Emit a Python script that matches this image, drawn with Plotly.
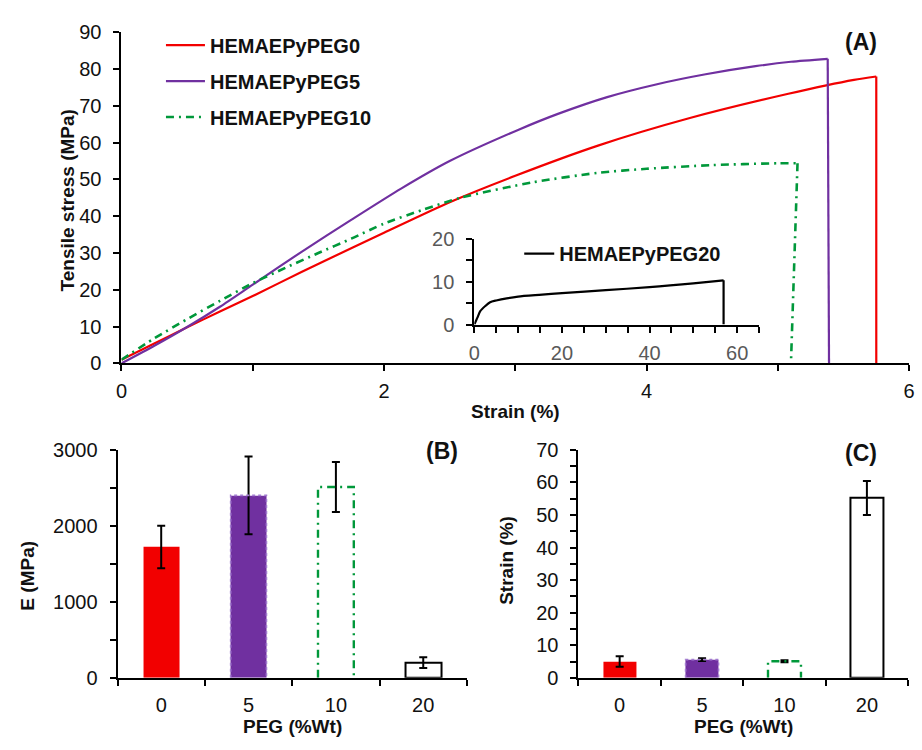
import plotly.graph_objects as go

W, H = 922, 750

# ---- Tensile stress-strain curves (strain %, stress MPa); last point is the break ----
peg0_strain = [0, 0.25, 0.5, 0.75, 1.0, 1.375, 1.75, 2.0, 2.5, 3.0, 3.63, 4.33, 5.08, 5.58, 5.75, 5.75]
peg0_stress = [1.0, 5.4, 9.8, 14.1, 18.3, 24.9, 31.3, 35.5, 43.8, 51.0, 59.2, 66.7, 73.3, 77.1, 78.0, 0]

peg5_strain = [0, 0.25, 0.5, 0.75, 1.0, 1.375, 1.75, 2.13, 2.5, 3.03, 3.33, 3.7, 4.08, 4.45, 4.83, 5.1, 5.38, 5.39]
peg5_stress = [0, 4.8, 9.9, 15.4, 21.4, 30.4, 39.0, 47.5, 55.0, 63.6, 67.9, 72.4, 75.9, 78.6, 80.8, 82.0, 82.8, 0]

peg10_strain = [0, 0.25, 0.5, 0.75, 1.0, 1.25, 1.5, 1.75, 2.0, 2.3, 2.58, 3.13, 3.63, 4.0, 4.5, 5.0, 5.15, 5.1]
peg10_stress = [1.0, 6.8, 12.0, 17.0, 21.8, 26.0, 30.0, 33.9, 38.0, 41.8, 45.0, 49.2, 51.8, 52.9, 53.9, 54.4, 54.4, 0]

peg20_strain = [0, 0.7, 1.35, 2.5, 3.6, 5.0, 7.4, 10, 14.8, 20, 30, 40, 44.7, 50, 56.9, 56.9]
peg20_stress = [0, 1.6, 3.1, 4.3, 5.2, 5.6, 6.1, 6.5, 6.9, 7.3, 8.0, 8.7, 9.1, 9.6, 10.3, 0]

# ---- Bar data per PEG content ----
peg_labels = ["0", "5", "10", "20"]
modulus = [1720, 2400, 2510, 200]
modulus_err = [280, 510, 330, 70]
elongation = [5.0, 5.6, 5.1, 55.2]
elongation_err = [1.6, 0.4, 0.3, 5.2]

RED = "#F20000"
PURPLE = "#7030A0"
PURPLE_EDGE = "#A27BD0"
GREEN = "#00983A"
DASHDOT = "8px,5px,2px,5px"
FONT = "Liberation Sans, Arial, sans-serif"
TXT = "#111111"


def fx(p):
    return p / W


def fy(p):
    return 1 - p / H


fig = go.Figure()


def curve(xs, ys, name, line, xa, ya, group=None, legend="legend"):
    # smooth loading part, then the straight vertical break
    fig.add_trace(go.Scatter(x=xs[:-1], y=ys[:-1], mode="lines", name=name,
                             line=dict(shape="spline", smoothing=0.7, **line),
                             legendgroup=group, legend=legend, xaxis=xa, yaxis=ya))
    fig.add_trace(go.Scatter(x=xs[-2:], y=ys[-2:], mode="lines", line=line, showlegend=False,
                             legendgroup=group, xaxis=xa, yaxis=ya, hoverinfo="skip"))


curve(peg0_strain, peg0_stress, "HEMAEPyPEG0", dict(color=RED, width=2.2), "x", "y", "a")
curve(peg5_strain, peg5_stress, "HEMAEPyPEG5", dict(color=PURPLE, width=2.2), "x", "y", "b")
curve(peg10_strain, peg10_stress, "HEMAEPyPEG10", dict(color=GREEN, width=2.6, dash=DASHDOT), "x", "y", "c")
curve(peg20_strain, peg20_stress, "HEMAEPyPEG20", dict(color="black", width=2.2), "x2", "y2",
      legend="legend2")

# Bar panels (B) and (C)
idx = list(range(len(peg_labels)))
fills = [RED, PURPLE, "white", "white"]
edge_cols = [RED, PURPLE, "white", "black"]
edge_w = [0, 0, 0, 2]


def bar_panel(vals, errs, xa, ya, width):
    fig.add_trace(go.Bar(
        x=idx, y=vals, width=width, xaxis=xa, yaxis=ya, showlegend=False,
        marker=dict(color=fills, line=dict(color=edge_cols, width=edge_w)),
        error_y=dict(type="data", array=errs, color="black", thickness=2, width=4),
    ))
    # outlined edges for the PEG5 (dotted) and PEG10 (dash-dot) bars
    for i, col, dash, lw in [(1, PURPLE_EDGE, "dot", 1.6), (2, GREEN, DASHDOT, 2.4)]:
        h = width / 2
        fig.add_trace(go.Scatter(
            x=[i - h, i - h, i + h, i + h], y=[0, vals[i], vals[i], 0], mode="lines",
            line=dict(color=col, width=lw, dash=dash), xaxis=xa, yaxis=ya, showlegend=False,
        ))


bar_panel(modulus, modulus_err, "x3", "y3", 0.41)
bar_panel(elongation, elongation_err, "x4", "y4", 0.40)

tickfont = dict(family=FONT, size=20, color=TXT)
grayfont = dict(family=FONT, size=20, color="#595959")
axis_common = dict(showline=True, linecolor="black", linewidth=2, showgrid=False, zeroline=False,
                   ticks="outside", ticklen=6, tickwidth=2, tickcolor="black", tickfont=tickfont)
minor_tick = dict(ticks="outside", ticklen=6, tickwidth=2, tickcolor="black")

bar_y0 = fy(687)
bar_y1 = fy(452)
bar_edges = [-0.5, 0.5, 1.5, 2.5, 3.5]

fig.update_layout(
    width=W, height=H, margin=dict(l=0, r=0, t=0, b=0),
    paper_bgcolor="white", plot_bgcolor="rgba(0,0,0,0)",
    font=dict(family=FONT, color=TXT),
    xaxis=dict(domain=[fx(117), fx(915)], range=[0, 6], anchor="y",
               tickvals=[0, 2, 4, 6], ticklabelstandoff=3,
               minor=dict(tickvals=[1, 3, 5], **minor_tick), **axis_common),
    yaxis=dict(domain=[fy(363), fy(22)], range=[0, 90], anchor="x", dtick=10, ticklabelstandoff=8,
               **axis_common),
    xaxis2=dict(domain=[fx(474.5), fx(763)], range=[0, 65], anchor="y2", tickvals=[0, 20, 40, 60],
                minor=dict(dtick=5, tick0=0, **minor_tick), ticklabelstandoff=3,
                **{**axis_common, "tickfont": grayfont}),
    yaxis2=dict(domain=[fy(323), fy(234.5)], range=[0, 20], anchor="x2", tickvals=[0, 10, 20],
                minor=dict(tickvals=[5, 15], **minor_tick), ticklabelstandoff=8,
                **{**axis_common, "tickfont": grayfont}),
    xaxis3=dict(domain=[fx(113), fx(467)], range=[-0.5, 3.5], anchor="y3",
                tickvals=idx, ticktext=peg_labels, ticklabelstandoff=8,
                minor=dict(tickvals=bar_edges, **minor_tick), **{**axis_common, "ticklen": 0}),
    yaxis3=dict(domain=[bar_y0, bar_y1], range=[0, 3000], anchor="x3", dtick=1000, ticklabelstandoff=8,
                minor=dict(tickvals=[500, 1500, 2500], **minor_tick), **axis_common),
    xaxis4=dict(domain=[fx(580), fx(914)], range=[-0.5, 3.5], anchor="y4",
                tickvals=idx, ticktext=peg_labels, ticklabelstandoff=8,
                minor=dict(tickvals=bar_edges, **minor_tick), **{**axis_common, "ticklen": 0}),
    yaxis4=dict(domain=[bar_y0, bar_y1], range=[0, 70], anchor="x4", dtick=10, ticklabelstandoff=8,
                minor=dict(dtick=5, tick0=0, **minor_tick), **axis_common),
    legend=dict(x=fx(157), y=fy(15), xanchor="left", yanchor="top", bgcolor="rgba(0,0,0,0)",
                font=dict(family=FONT, size=20, color=TXT, weight="bold"), tracegroupgap=7,
                itemwidth=39),
    legend2=dict(x=fx(520), y=fy(250), xanchor="left", yanchor="middle", bgcolor="rgba(0,0,0,0)",
                 font=dict(family=FONT, size=20, color=TXT, weight="bold")),
    bargap=0,
)

title_font = dict(family=FONT, size=19, color=TXT, weight="bold")
label_font = dict(family=FONT, size=23, color=TXT, weight="bold")
annotations = [
    dict(text="Tensile stress (MPa)", x=fx(62), y=fy(195), textangle=-90, font=title_font),
    dict(text="Strain (%)", x=fx(516), y=fy(413), font=title_font),
    dict(text="E (MPa)", x=fx(22), y=fy(582), textangle=-90, font=title_font),
    dict(text="PEG (%Wt)", x=fx(290), y=0, yanchor="bottom", font=title_font),
    dict(text="Strain (%)", x=fx(507), y=fy(566), textangle=-90, font=title_font),
    dict(text="PEG (%Wt)", x=fx(747), y=0, yanchor="bottom", font=title_font),
    dict(text="(A)", x=fx(866), y=fy(32), font=label_font),
    dict(text="(B)", x=fx(442), y=fy(453), font=label_font),
    dict(text="(C)", x=fx(866), y=fy(455), font=label_font),
]
for a in annotations:
    a.setdefault("yanchor", "middle")
    a.update(xref="paper", yref="paper", showarrow=False, xanchor="center")
fig.update_layout(annotations=annotations)

fig.write_html("out.html")
